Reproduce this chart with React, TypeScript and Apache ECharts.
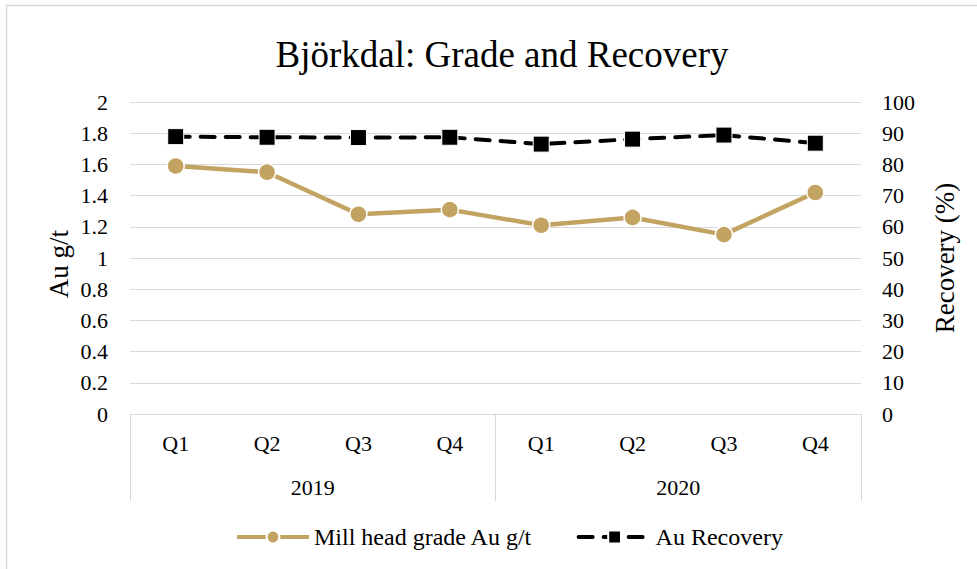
import React, { useEffect, useRef } from "react";
import * as echarts from "echarts";

const quarters = ["Q1", "Q2", "Q3", "Q4", "Q1", "Q2", "Q3", "Q4"];
const years = ["2019", "2020"];
const gradeValues = [1.59, 1.55, 1.28, 1.31, 1.21, 1.26, 1.15, 1.42];
const recoveryValues = [88.9, 88.7, 88.6, 88.7, 86.5, 88.1, 89.4, 86.8];
const seriesNames = ["Mill head grade Au g/t", "Au Recovery"];
const titleText = "Björkdal: Grade and Recovery";
const leftAxisName = "Au g/t";
const rightAxisName = "Recovery (%)";

const FONT = "'Liberation Serif', 'Times New Roman', serif";
const GOLD = "#C3A362";
const GRID_COLOR = "#d9d9d9";

export default function App() {
  const ref = useRef<HTMLDivElement>(null);

  useEffect(() => {
    if (!ref.current) return;
    const chart = echarts.init(ref.current, undefined, { renderer: "svg" });
    chart.setOption({
      animation: false,
      backgroundColor: "#ffffff",
      textStyle: { fontFamily: FONT, color: "#000" },
      title: {
        text: titleText,
        left: 497,
        textAlign: "center",
        top: 31,
        textStyle: { fontFamily: FONT, fontSize: 37, fontWeight: "normal", color: "#000" },
      },
      graphic: [
        {
          type: "rect",
          shape: { x: 6.5, y: 5.5, width: 990, height: 590 },
          style: { fill: "none", stroke: GRID_COLOR, lineWidth: 1.5 },
          silent: true,
          z: -1,
        },
        {
          type: "text",
          x: 59,
          y: 264,
          rotation: Math.PI / 2,
          style: {
            text: leftAxisName,
            font: `27px ${FONT}`,
            fill: "#000",
            textAlign: "center",
            textVerticalAlign: "middle",
          },
        },
        {
          type: "text",
          x: 945,
          y: 258,
          rotation: Math.PI / 2,
          style: {
            text: rightAxisName,
            font: `27px ${FONT}`,
            fill: "#000",
            textAlign: "center",
            textVerticalAlign: "middle",
          },
        },
      ],
      grid: { left: 130, right: 116, top: 102, bottom: 155, containLabel: false },
      legend: {
        left: 230,
        top: 520,
        itemWidth: 72,
        itemHeight: 16,
        itemGap: 44,
        lineStyle: { width: 4 },
        textStyle: { fontFamily: FONT, fontSize: 24, color: "#000" },
        data: seriesNames,
      },
      xAxis: [
        {
          type: "category",
          data: quarters,
          boundaryGap: true,
          axisLine: { show: true, lineStyle: { color: GRID_COLOR, width: 1 } },
          axisTick: { show: false },
          axisLabel: { interval: 0, margin: 18, fontFamily: FONT, fontSize: 22, color: "#000" },
          splitLine: { show: false },
        },
        {
          type: "category",
          data: years,
          position: "bottom",
          boundaryGap: true,
          axisLine: { show: false },
          axisTick: { show: true, length: 87, lineStyle: { color: GRID_COLOR, width: 1 } },
          axisLabel: { interval: 0, margin: 62, fontFamily: FONT, fontSize: 22, color: "#000" },
          splitLine: { show: false },
        },
      ],
      yAxis: [
        {
          type: "value",
          min: 0,
          max: 2,
          interval: 0.2,
          axisLine: { show: false },
          axisTick: { show: false },
          axisLabel: { margin: 22, fontFamily: FONT, fontSize: 22, color: "#000" },
          splitLine: { show: true, lineStyle: { color: GRID_COLOR, width: 1 } },
        },
        {
          type: "value",
          min: 0,
          max: 100,
          interval: 10,
          position: "right",
          axisLine: { show: false },
          axisTick: { show: false },
          axisLabel: { margin: 21, fontFamily: FONT, fontSize: 22, color: "#000" },
          splitLine: { show: false },
        },
      ],
      series: [
        {
          name: seriesNames[0],
          type: "line",
          xAxisIndex: 0,
          yAxisIndex: 0,
          data: gradeValues,
          symbol: "circle",
          symbolSize: 17,
          itemStyle: { color: GOLD, borderColor: "#ffffff", borderWidth: 1.5 },
          lineStyle: { color: GOLD, width: 4.5 },
          z: 2,
        },
        {
          name: seriesNames[1],
          type: "line",
          xAxisIndex: 0,
          yAxisIndex: 1,
          data: recoveryValues,
          symbol: "rect",
          symbolSize: 16,
          itemStyle: { color: "#000000", borderColor: "#ffffff", borderWidth: 1 },
          lineStyle: { color: "#000000", width: 4, type: [14, 11], cap: "round" },
          z: 3,
        },
      ],
    });
    return () => chart.dispose();
  }, []);

  return (
    <div
      ref={ref}
      style={{ position: "fixed", left: 0, top: 0, width: 977, height: 569 }}
    />
  );
}
